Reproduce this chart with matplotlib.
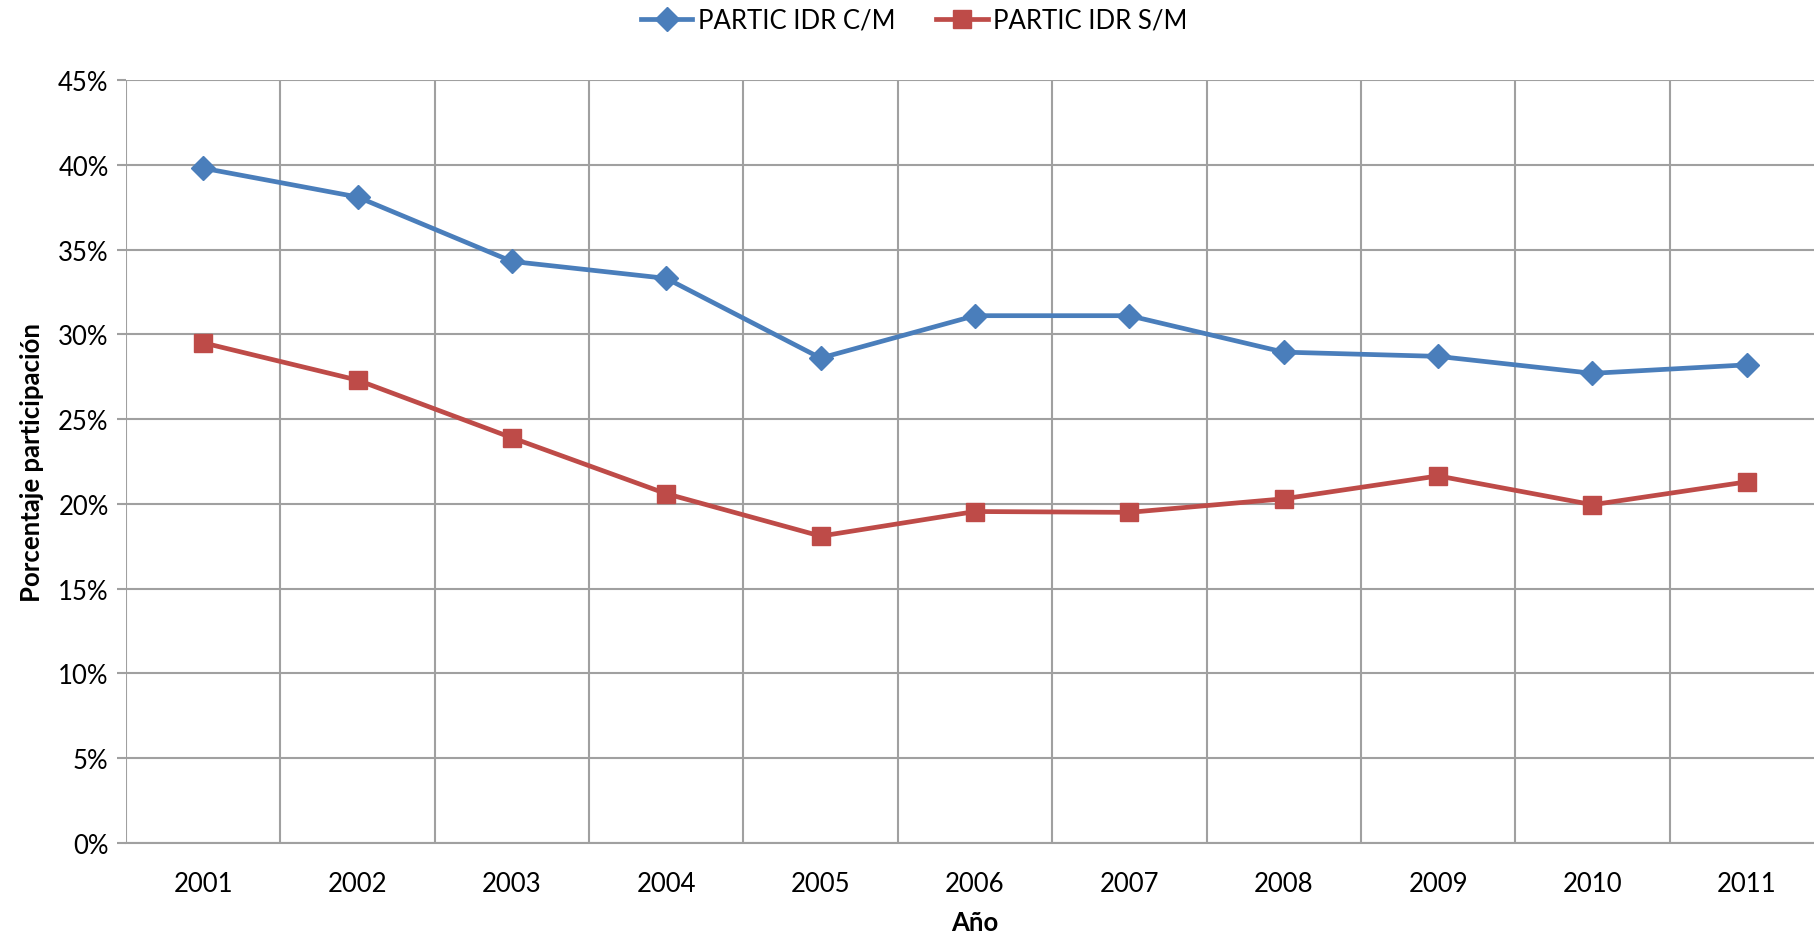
import numpy as np
import matplotlib.pyplot as plt
from matplotlib.ticker import PercentFormatter, FixedLocator

years = ["2001", "2002", "2003", "2004", "2005", "2006",
         "2007", "2008", "2009", "2010", "2011"]
partic_cm = [39.8, 38.1, 34.3, 33.3, 28.6, 31.1, 31.1, 28.95, 28.7, 27.7, 28.2]
partic_sm = [29.5, 27.3, 23.9, 20.6, 18.1, 19.55, 19.5, 20.3, 21.65, 19.95, 21.3]

plt.rcParams["font.family"] = ["Lato", "DejaVu Sans"]

fig = plt.figure(figsize=(18.14, 9.37), dpi=100)
ax = fig.add_axes([126 / 1814, 1 - 844 / 937, (1824 - 126) / 1814, (844 - 81) / 937])

x = np.arange(len(years))
ax.plot(x, partic_cm, color="#4A7EBB", lw=3.4, marker="D", ms=12,
        label="PARTIC IDR C/M", clip_on=False, zorder=3)
ax.plot(x, partic_sm, color="#BE4B48", lw=3.4, marker="s", ms=13,
        label="PARTIC IDR S/M", clip_on=False, zorder=3)

ax.set_xlim(-0.5, len(years) - 0.5)
ax.set_ylim(0, 45)
ax.set_yticks(np.arange(0, 46, 5))
ax.yaxis.set_major_formatter(PercentFormatter(decimals=0))
ax.set_xticks(x)
ax.set_xticklabels(years)
ax.xaxis.set_minor_locator(FixedLocator(np.arange(-0.5, len(years), 1)))

grid_c = "#A0A0A0"
ax.grid(axis="y", which="major", color=grid_c, lw=1.5)
ax.grid(axis="x", which="minor", color=grid_c, lw=1.5)
ax.set_axisbelow(True)
for s in ["top", "right", "left"]:
    ax.spines[s].set_visible(False)
ax.spines["bottom"].set_color(grid_c)
ax.spines["bottom"].set_linewidth(1.5)

ax.tick_params(axis="y", length=6.5, width=1.5, color=grid_c, labelsize=18.5, pad=6)
ax.tick_params(axis="x", which="major", length=0, labelsize=18.5, pad=20)
ax.tick_params(axis="x", which="minor", length=0)

ax.set_ylabel("Porcentaje participación", fontsize=18.5, fontweight="bold", labelpad=10)
ax.set_xlabel("Año", fontsize=18.5, fontweight="bold", labelpad=10)

fig.legend(loc="center", bbox_to_anchor=(914 / 1814, 1 - 21 / 937), ncol=2,
           frameon=False, fontsize=18.5, handlelength=2.0, columnspacing=1.6,
           handletextpad=0.2)

fig.savefig("out.png", dpi=100)
